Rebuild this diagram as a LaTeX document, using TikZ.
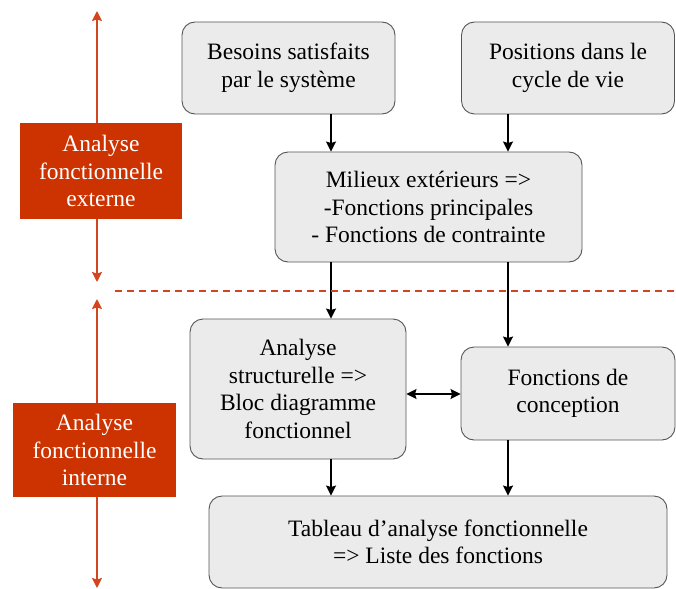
\documentclass[tikz,border=0pt]{standalone}
\usepackage{fontspec}
\setmainfont{Liberation Serif}
\usetikzlibrary{arrows.meta}
\definecolor{boxfill}{HTML}{EBEBEB}
\definecolor{boxdraw}{HTML}{555555}
\definecolor{redbox}{HTML}{CC3300}
\definecolor{redline}{HTML}{D2451E}
\tikzset{
  gbox/.style={draw=boxdraw, line width=0.9pt, fill=boxfill, rounded corners=13pt, align=center, inner sep=0pt,
    font=\fontsize{23.5}{27.5}\selectfont, text=black},
  rbox/.style={fill=redbox, align=center, inner sep=0pt, text=white, font=\fontsize{23.5}{27.5}\selectfont},
  barrow/.style={line width=1.8pt, -{Stealth[length=10pt,width=10pt,inset=1.5pt]}},
  bdarrow/.style={line width=1.8pt, {Stealth[length=10pt,width=10pt,inset=1.5pt]}-{Stealth[length=10pt,width=10pt,inset=1.5pt]}},
  rarrow/.style={draw=redline, line width=1.8pt, -{Stealth[length=10pt,width=10pt,inset=1.5pt]}},
}
\begin{document}
\begin{tikzpicture}[x=1pt,y=-1pt]
\useasboundingbox (0,0) rectangle (676,588);
\node[gbox, minimum width=213pt, minimum height=92pt] (bes) at (288.5,68) {Besoins satisfaits\\par le système};
\node[gbox, minimum width=213pt, minimum height=92pt] (pos) at (568,68) {Positions dans le\\cycle de vie};
\node[gbox, minimum width=307pt, minimum height=110pt] (mil) at (428.5,207) {Milieux extérieurs =>\\-Fonctions principales\\- Fonctions de contrainte};
\node[gbox, minimum width=216pt, minimum height=140pt] (ana) at (298,389) {Analyse\\structurelle =>\\Bloc diagramme\\fonctionnel};
\node[gbox, minimum width=214pt, minimum height=93pt] (fct) at (568,393.5) {Fonctions de\\conception};
\node[gbox, minimum width=458pt, minimum height=92pt] (tab) at (438,542) {Tableau d’analyse fonctionnelle\\=> Liste des fonctions};
\node[rbox, minimum width=162pt, minimum height=96pt] (ext) at (101,171) {Analyse\\fonctionnelle\\externe};
\node[rbox, minimum width=163pt, minimum height=94pt] (int) at (94.5,450) {Analyse\\fonctionnelle\\interne};
\coordinate (c1) at (331,0);
\coordinate (c2) at (508,0);
\coordinate (r1) at (97,0);
\coordinate (top1) at (97,11);
\coordinate (bot1) at (97,282);
\coordinate (top2) at (97,299);
\coordinate (bot2) at (97,588);
\coordinate (d1) at (115,291);
\coordinate (d2) at (676,291);
\draw[barrow] (bes.south -| c1) -- (mil.north -| c1);
\draw[barrow] (pos.south -| c2) -- (mil.north -| c2);
\draw[barrow] (mil.south -| c1) -- (ana.north -| c1);
\draw[barrow] (mil.south -| c2) -- (fct.north -| c2);
\draw[barrow] (ana.south -| c1) -- (tab.north -| c1);
\draw[barrow] (fct.south -| c2) -- (tab.north -| c2);
\draw[bdarrow] (ana.east |- 0,394) -- (fct.west |- 0,394);
\draw[rarrow] (ext.north -| r1) -- (top1);
\draw[rarrow] (ext.south -| r1) -- (bot1);
\draw[rarrow] (int.north -| r1) -- (top2);
\draw[rarrow] (int.south -| r1) -- (bot2);
\draw[draw=redline, line width=1.3pt, dash pattern=on 7pt off 5pt] (d1) -- (d2);
\end{tikzpicture}
\end{document}
